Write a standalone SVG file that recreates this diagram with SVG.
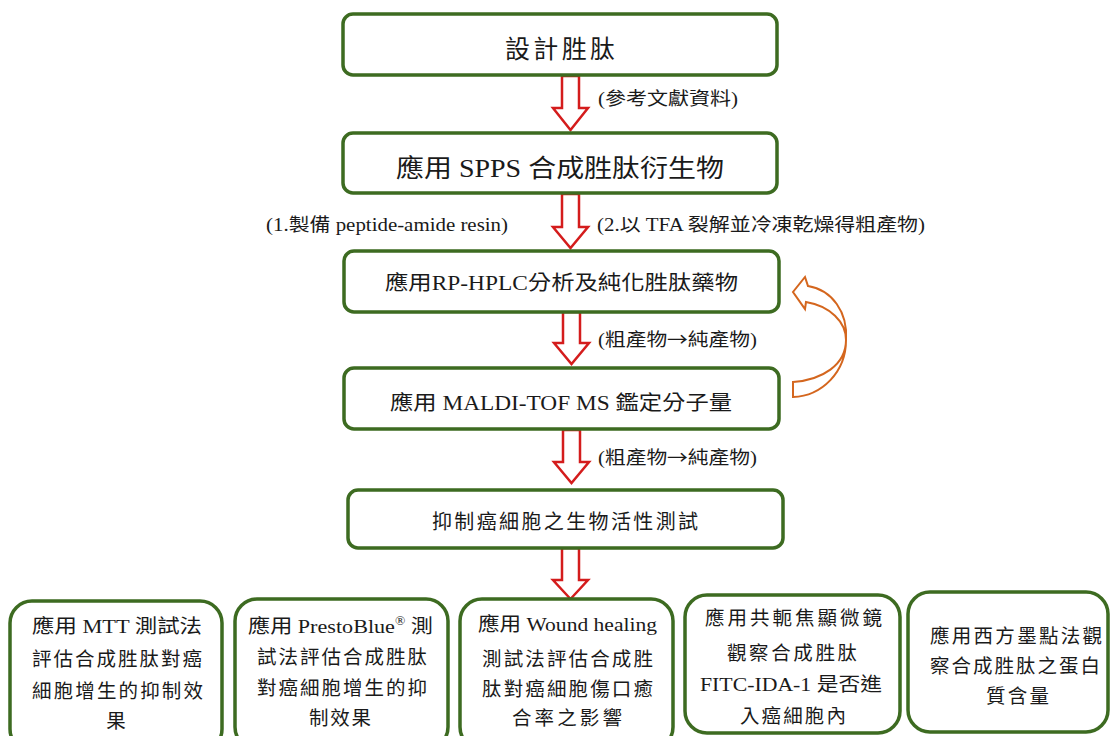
<svg xmlns="http://www.w3.org/2000/svg" width="1113" height="736" viewBox="0 0 1113 736">
<style>
.box{fill:#ffffff;stroke:#3d6b21;stroke-width:3.5}
.t{font-family:"Liberation Serif","Noto Sans CJK TC",serif;fill:#1a1a1a}
.cjk{font-family:"Noto Sans CJK TC",sans-serif}
.big{font-size:25px}
.mid{font-size:20px}
.lab{font-size:18px}
.bt{font-size:19.5px}
.arr{fill:#ffffff;stroke:#d41c1c;stroke-width:2.5;stroke-linejoin:miter}
.curv{fill:#ffffff;stroke:#d4661e;stroke-width:2}
</style>
<rect width="1113" height="736" fill="#ffffff"/>

<g id="connectors">
  <path class="arr" d="M562,76 L579,76 L579,108 L588,108 L570.5,130 L553,108 L562,108 Z"/>
  <path class="arr" d="M562,194 L579,194 L579,227 L588,227 L570.5,248 L553,227 L562,227 Z"/>
  <path class="arr" d="M563,312 L580,312 L580,343 L589,343 L571.5,364 L554,343 L563,343 Z"/>
  <path class="arr" d="M563,430 L580,430 L580,462 L589,462 L571.5,483 L554,462 L563,462 Z"/>
  <path class="arr" d="M562,548 L579,548 L579,580 L588,580 L570.5,599 L553,580 L562,580 Z"/>
  <path class="curv" d="M793,382 C822,380 846,365 846,340 C846,322 830,306 806,302 L805,309 L793,292 L805,277 L808,286 C832,290 848,312 846,340 C846,372 822,396 793,397 Z"/>
  <text class="t lab" x="598" y="105" textLength="140" lengthAdjust="spacingAndGlyphs">(參考文獻資料)</text>
  <text class="t lab" x="266" y="231" textLength="242" lengthAdjust="spacingAndGlyphs">(1.製備 peptide-amide resin)</text>
  <text class="t lab" x="597" y="231" textLength="328" lengthAdjust="spacingAndGlyphs">(2.以 TFA 裂解並冷凍乾燥得粗產物)</text>
  <text class="t lab" x="598" y="346" textLength="159" lengthAdjust="spacingAndGlyphs">(粗產物<tspan class="cjk">→</tspan>純產物)</text>
  <text class="t lab" x="598" y="464" textLength="159" lengthAdjust="spacingAndGlyphs">(粗產物<tspan class="cjk">→</tspan>純產物)</text>
</g>

<g id="node1">
  <rect class="box" x="343" y="14" width="434" height="61" rx="10"/>
  <text class="t big" x="505" y="58" textLength="110" lengthAdjust="spacing">設計胜肽</text>
</g>
<g id="node2">
  <rect class="box" x="343" y="133" width="434" height="60" rx="10"/>
  <text class="t big" x="396" y="177" textLength="328" lengthAdjust="spacingAndGlyphs">應用 SPPS 合成胜肽衍生物</text>
</g>
<g id="node3">
  <rect class="box" x="344" y="251" width="435" height="61" rx="10"/>
  <text class="t mid" x="385" y="290" textLength="353" lengthAdjust="spacingAndGlyphs">應用RP-HPLC分析及純化胜肽藥物</text>
</g>
<g id="node4">
  <rect class="box" x="344" y="368" width="435" height="61" rx="10"/>
  <text class="t mid" x="390" y="410" textLength="342" lengthAdjust="spacingAndGlyphs">應用 MALDI-TOF MS 鑑定分子量</text>
</g>
<g id="node5">
  <rect class="box" x="348" y="490" width="435" height="58" rx="10"/>
  <text class="t mid" x="432" y="529" textLength="266" lengthAdjust="spacing">抑制癌細胞之生物活性測試</text>
</g>

<g id="node6">
  <rect class="box" x="10" y="601" width="212" height="150" rx="22"/>
  <text class="t bt" x="32" y="633" textLength="170" lengthAdjust="spacingAndGlyphs">應用 MTT 測試法</text>
  <text class="t bt" x="32" y="666" textLength="170" lengthAdjust="spacing">評估合成胜肽對癌</text>
  <text class="t bt" x="32" y="698" textLength="171" lengthAdjust="spacing">細胞增生的抑制效</text>
  <text class="t bt" x="116" y="728" text-anchor="middle">果</text>
</g>
<g id="node7">
  <rect class="box" x="235" y="599" width="213" height="150" rx="22"/>
  <text class="t bt" x="248" y="633" textLength="185" lengthAdjust="spacingAndGlyphs">應用 PrestoBlue<tspan font-size="12" dy="-8">®</tspan><tspan dy="8"> 測</tspan></text>
  <text class="t bt" x="257" y="664" textLength="170" lengthAdjust="spacing">試法評估合成胜肽</text>
  <text class="t bt" x="257" y="695" textLength="170" lengthAdjust="spacing">對癌細胞增生的抑</text>
  <text class="t bt" x="309" y="725" textLength="62" lengthAdjust="spacing">制效果</text>
</g>
<g id="node8">
  <rect class="box" x="460" y="599" width="213" height="150" rx="22"/>
  <text class="t bt" x="478" y="631" textLength="179" lengthAdjust="spacingAndGlyphs">應用 Wound healing</text>
  <text class="t bt" x="482" y="666" textLength="171" lengthAdjust="spacing">測試法評估合成胜</text>
  <text class="t bt" x="482" y="696" textLength="171" lengthAdjust="spacing">肽對癌細胞傷口癒</text>
  <text class="t bt" x="512" y="725" textLength="110" lengthAdjust="spacing">合率之影響</text>
</g>
<g id="node9">
  <rect class="box" x="685" y="595" width="215" height="138" rx="22"/>
  <text class="t bt" x="705" y="625" textLength="177" lengthAdjust="spacing">應用共軛焦顯微鏡</text>
  <text class="t bt" x="727" y="660" textLength="130" lengthAdjust="spacing">觀察合成胜肽</text>
  <text class="t bt" x="700" y="691" textLength="182" lengthAdjust="spacingAndGlyphs">FITC-IDA-1 是否進</text>
  <text class="t bt" x="740" y="723" textLength="106" lengthAdjust="spacing">入癌細胞內</text>
</g>
<g id="node10">
  <rect class="box" x="908" y="592" width="200" height="140" rx="22"/>
  <text class="t bt" x="930" y="643" textLength="172" lengthAdjust="spacing">應用西方墨點法觀</text>
  <text class="t bt" x="930" y="673" textLength="170" lengthAdjust="spacing">察合成胜肽之蛋白</text>
  <text class="t bt" x="986" y="703" textLength="63" lengthAdjust="spacing">質含量</text>
</g>
</svg>
